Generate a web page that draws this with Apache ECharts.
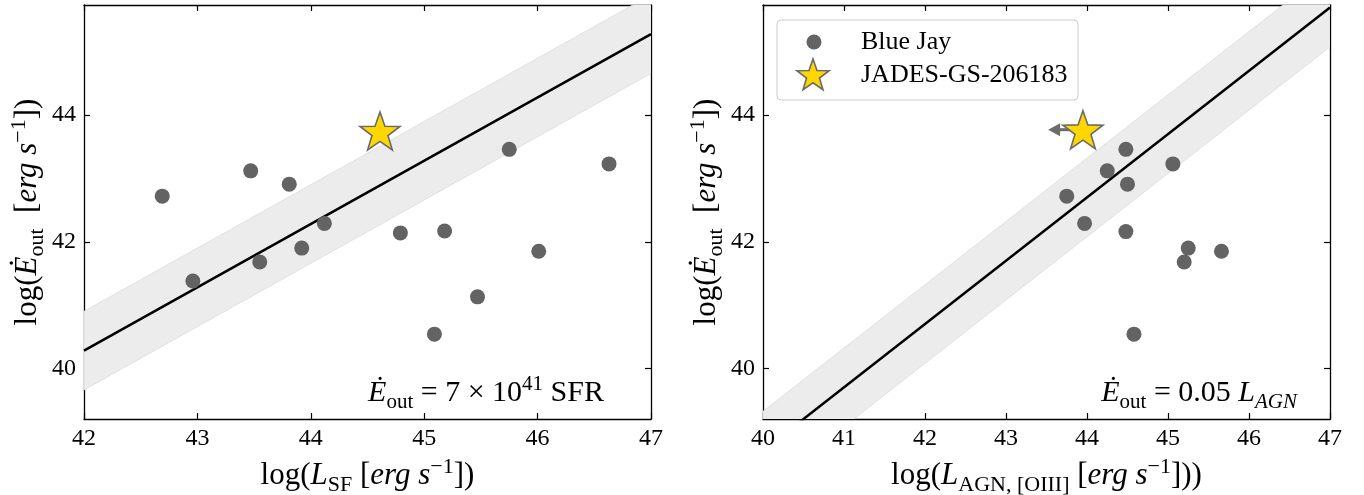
<!DOCTYPE html>
<html><head><meta charset="utf-8">
<script src="https://cdn.jsdelivr.net/npm/echarts@6/dist/echarts.min.js"></script>
<style>html,body{margin:0;padding:0;background:#fff}#c{width:1364px;height:495px}</style>
</head><body><div id="c"></div>
<script>
// ---- data ----
const sfX  = [42.69, 42.96, 43.47, 43.55, 43.81, 43.92, 44.12, 44.79, 45.09, 45.18, 45.47, 45.75, 46.01, 46.63];
const sfY  = [42.72, 41.38, 43.12, 41.68, 42.91, 41.90, 42.29, 42.14, 40.54, 42.17, 41.13, 43.46, 41.85, 43.23];
const agnX = [43.75, 43.97, 44.25, 44.48, 44.50, 44.48, 45.06, 45.25, 45.20, 45.66, 44.58];
const agnY = [42.72, 42.29, 43.12, 43.46, 42.91, 42.16, 43.23, 41.90, 41.68, 41.85, 40.54];
const jadesSF  = [44.61, 43.75];
const jadesAGN = [43.95, 43.77];
const jadesAGNLimitX = 43.52;
const relSFX  = [42, 47];
const relSFY  = [40.28, 45.28];
const relAGNX = [40, 47];
const relAGNY = [38.70, 45.70];
const bandHalf = 0.62;
const xTicksSF  = [42, 43, 44, 45, 46, 47];
const xTicksAGN = [40, 41, 42, 43, 44, 45, 46, 47];
const yTicks = [40, 42, 44];
const yMin = 39.20, yMax = 45.74;
const legendNames = ['Blue Jay', 'JADES-GS-206183'];

// ---- styling ----
const FONT = 'Liberation Serif';
function starPts(cx, cy, R){ const p=[]; for(let k=0;k<10;k++){const r=k%2===0?R:0.4*R; const a=-Math.PI/2+k*Math.PI/5; p.push([cx+r*Math.cos(a), cy+r*Math.sin(a)]);} return p; }
const STAR = 'path://' + starPts(0,0,1).map((q,k)=>(k?'L':'M')+q[0].toFixed(4)+' '+q[1].toFixed(4)).join(' ') + ' Z';

function rich(b){
  return {
    n:{fontFamily:FONT,fontSize:b,color:'#000',lineHeight:Math.round(b*1.3)},
    i:{fontFamily:FONT,fontSize:b,fontStyle:'italic',color:'#000',lineHeight:Math.round(b*1.3)},
    sub:{fontFamily:FONT,fontSize:Math.round(b*0.7),color:'#000',verticalAlign:'bottom',lineHeight:Math.round(b*0.7)},
    subi:{fontFamily:FONT,fontSize:Math.round(b*0.7),fontStyle:'italic',color:'#000',verticalAlign:'bottom',lineHeight:Math.round(b*0.7)},
    sup:{fontFamily:FONT,fontSize:Math.round(b*0.7),color:'#000',verticalAlign:'top',lineHeight:Math.round(b*0.7)}
  };
}

const tickStyle = {show:true, inside:true, length:6, lineStyle:{color:'#000', width:1.2}};
const lineStyle = {show:true, onZero:false, lineStyle:{color:'#000', width:1.3}};
const labelStyle = {show:true, margin:8, fontFamily:FONT, fontSize:24, color:'#000'};

function xAxes(gi, min, max, ticks, nameStr){
  return [
    {type:'value', gridIndex:gi, position:'bottom', min:ticks[0], max:ticks[ticks.length-1], interval:1,
     axisLine:lineStyle, splitLine:{show:false},
     axisTick:tickStyle,
     axisLabel:labelStyle,
     name:nameStr, nameLocation:'middle', nameGap:32,
     nameTextStyle:{rich:rich(31)}},
    {type:'value', gridIndex:gi, position:'top', min:ticks[0], max:ticks[ticks.length-1], interval:1,
     axisLine:lineStyle, splitLine:{show:false},
     axisTick:tickStyle,
     axisLabel:{show:false}}
  ];
}
function yAxes(gi, nameStr){
  return [
    {type:'value', gridIndex:gi, position:'left', min:yMin, max:yMax,
     axisLine:lineStyle, splitLine:{show:false},
     axisTick:Object.assign({customValues:yTicks}, tickStyle),
     axisLabel:Object.assign({customValues:yTicks}, labelStyle),
     name:nameStr, nameLocation:'middle', nameGap:35, nameRotate:90,
     nameTextStyle:{rich:rich(31)}},
    {type:'value', gridIndex:gi, position:'right', min:yMin, max:yMax,
     axisLine:lineStyle, splitLine:{show:false},
     axisTick:Object.assign({customValues:yTicks}, tickStyle),
     axisLabel:{show:false}}
  ];
}

function band(xi, yi, lx, ly){
  return {type:'custom', xAxisIndex:xi, yAxisIndex:yi, clip:true, silent:true, z:1,
    data:[[lx[0], ly[0], lx[1], ly[1]]],
    renderItem:function(p, api){
      const pts=[api.coord([api.value(0), api.value(1)+bandHalf]), api.coord([api.value(2), api.value(3)+bandHalf]),
                 api.coord([api.value(2), api.value(3)-bandHalf]), api.coord([api.value(0), api.value(1)-bandHalf])];
      return {type:'polygon', shape:{points:pts}, style:{fill:'#ececec', stroke:'#e0e0e0', lineWidth:1}};
    }};
}
function rel(xi, yi, lx, ly){
  return {type:'line', xAxisIndex:xi, yAxisIndex:yi, silent:true, z:3, symbol:'none', clip:true,
    data:lx.map((v,k)=>[v, ly[k]]), lineStyle:{color:'#000', width:2.5}};
}
function pts(xi, yi, xs, ys){
  return {name:legendNames[0], type:'scatter', xAxisIndex:xi, yAxisIndex:yi, z:4, symbol:'circle', symbolSize:15,
    itemStyle:{color:'#636363', opacity:1}, data:xs.map((v,k)=>[v, ys[k]])};
}
function star(xi, yi, p){
  return {name:legendNames[1], type:'scatter', xAxisIndex:xi, yAxisIndex:yi, z:6, symbol:STAR, symbolSize:40, symbolKeepAspect:true,
    itemStyle:{color:'#FFD700', borderColor:'#6b6b6b', borderWidth:1.6, opacity:1}, data:[p]};
}

const yName = '{n|log(}{i|Ė}{sub|out}{n|  [}{i|erg s}{sup|−1}{n|])}';
const xNameSF = '{n|log(}{i|L}{sub|SF}{n| [}{i|erg s}{sup|−1}{n|])}';
const xNameAGN = '{n|log(}{i|L}{sub|AGN, [OIII]}{n| [}{i|erg s}{sup|−1}{n|]))}';

const legendText = {fontFamily:FONT, fontSize:26, fill:'#000'};

const option = {
  animation:false,
  backgroundColor:'#fff',
  textStyle:{fontFamily:FONT, fontSize:24},
  grid:[{left:84, top:5, width:567, height:414, containLabel:false, outerBoundsMode:'none'},
        {left:763, top:5, width:567, height:414, containLabel:false, outerBoundsMode:'none'}],
  xAxis:[].concat(xAxes(0, 42, 47, xTicksSF, xNameSF), xAxes(1, 40, 47, xTicksAGN, xNameAGN)),
  yAxis:[].concat(yAxes(0, yName), yAxes(1, yName)),
  graphic:[
    {type:'group', x:777, y:20, z:20, children:[
      {type:'rect', shape:{x:0, y:0, width:301, height:80, r:4}, style:{fill:'rgba(255,255,255,0.85)', stroke:'#cccccc', lineWidth:1}},
      {type:'circle', shape:{cx:37, cy:22, r:7.5}, style:{fill:'#636363'}},
      {type:'polygon', shape:{points:starPts(36, 56, 17)}, style:{fill:'#FFD700', stroke:'#6b6b6b', lineWidth:1.6}},
      {type:'text', x:84, y:22, style:Object.assign({text:legendNames[0], verticalAlign:'middle'}, legendText)},
      {type:'text', x:84, y:55, style:Object.assign({text:legendNames[1], verticalAlign:'middle'}, legendText)}
    ]},
    {type:'text', x:604, y:393, z:10, style:{align:'right', verticalAlign:'middle',
      text:'{i|Ė}{sub|out}{n| = 7 × 10}{sup|41}{n| SFR}', rich:rich(30)}},
    {type:'text', x:1297, y:393, z:10, style:{align:'right', verticalAlign:'middle',
      text:'{i|Ė}{sub|out}{n| = 0.05 }{i|L}{subi|AGN}', rich:rich(30)}}
  ],
  series:[
    band(0, 0, relSFX, relSFY),
    rel(0, 0, relSFX, relSFY),
    pts(0, 0, sfX, sfY),
    star(0, 0, jadesSF),
    band(2, 2, relAGNX, relAGNY),
    rel(2, 2, relAGNX, relAGNY),
    pts(2, 2, agnX, agnY),
    {type:'custom', xAxisIndex:2, yAxisIndex:2, z:5, silent:true,
     data:[[jadesAGN[0], jadesAGN[1], jadesAGNLimitX]],
     renderItem:function(p, api){
       const s=api.coord([api.value(0), api.value(1)]);
       const t=api.coord([api.value(2), api.value(1)]);
       return {type:'group', children:[
         {type:'line', shape:{x1:s[0], y1:s[1], x2:t[0]+9, y2:t[1]}, style:{stroke:'#6b6b6b', lineWidth:3}},
         {type:'polygon', shape:{points:[[t[0], t[1]], [t[0]+12, t[1]-6.5], [t[0]+12, t[1]+6.5]]}, style:{fill:'#6b6b6b'}}
       ]};
     }},
    star(2, 2, jadesAGN)
  ]
};
const chart = echarts.init(document.getElementById('c'), null, {renderer:'canvas'});
chart.setOption(option);
</script>
</body></html>
